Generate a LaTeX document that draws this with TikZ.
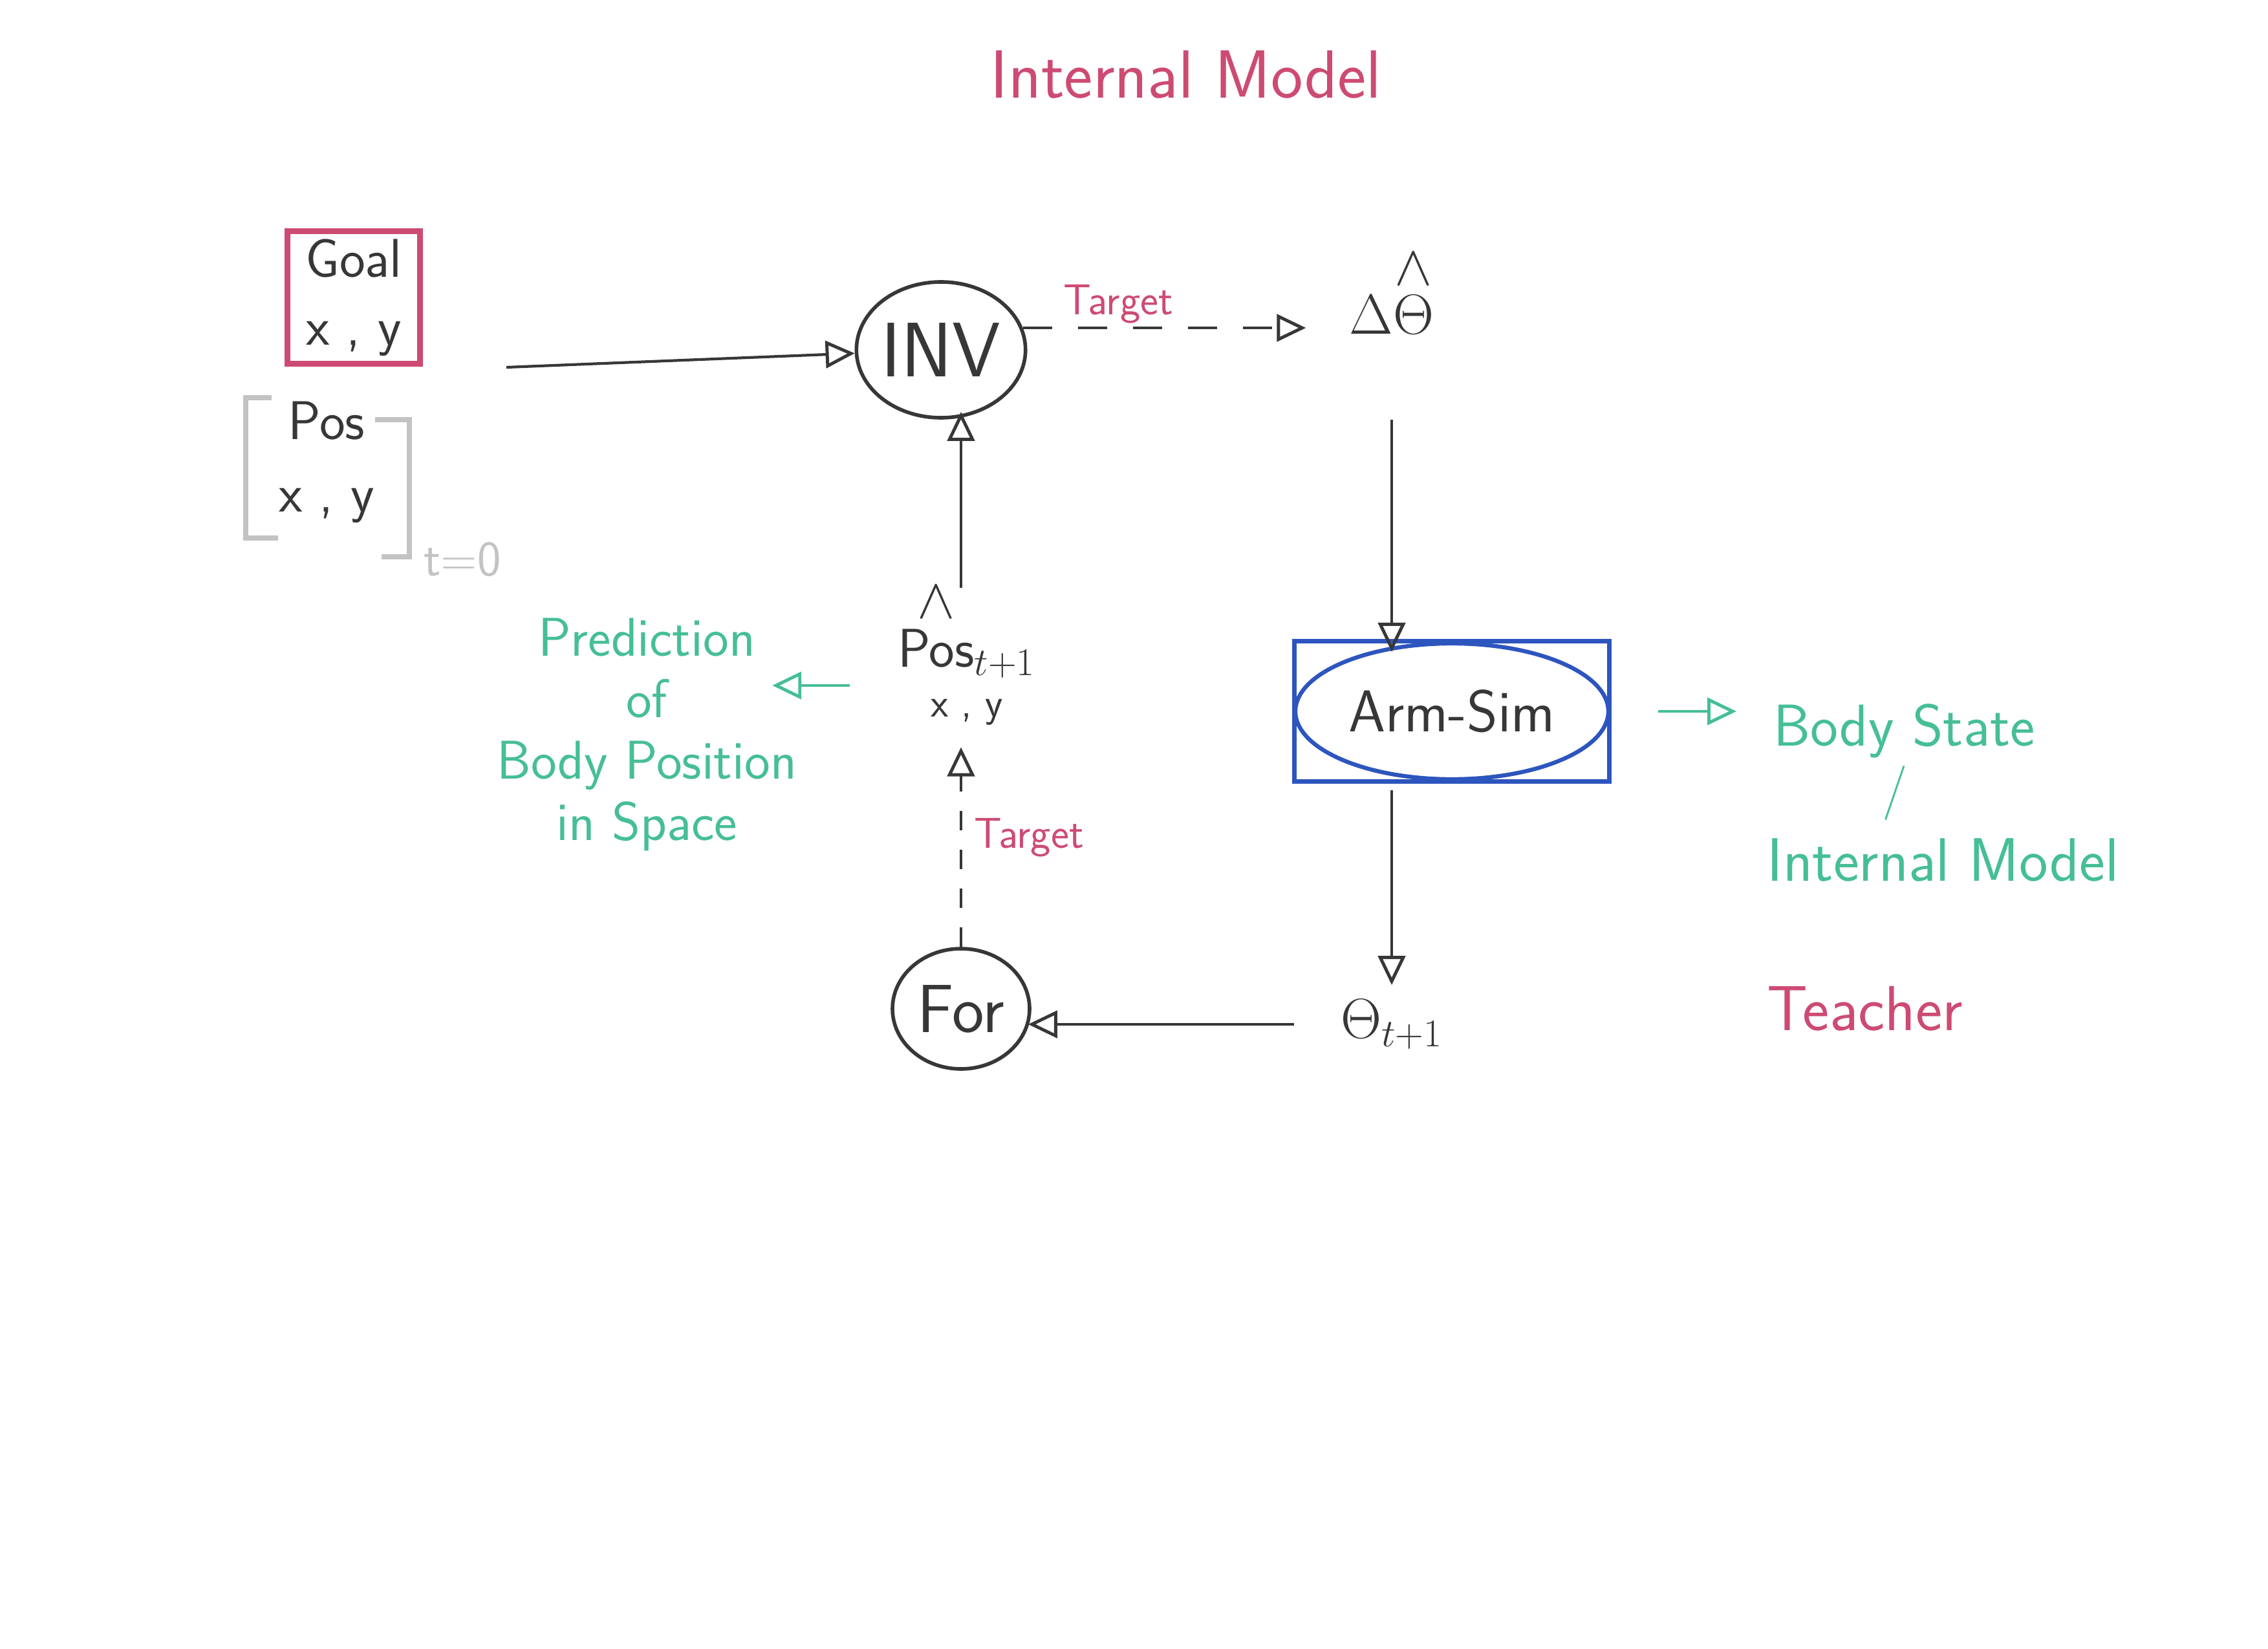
\documentclass[tikz,border=0pt]{standalone}
\usepackage{amsmath}
\usepackage{amssymb}
\usepackage{xcolor}
\usetikzlibrary{arrows.meta}
\usetikzlibrary{shapes.geometric}
\usetikzlibrary{calc, positioning}
\definecolor{penred}{RGB}{205,75,115}
\definecolor{pengreen}{RGB}{70,190,150}
\definecolor{penblue}{RGB}{45,85,190}
\definecolor{pengray}{RGB}{195,195,195}
\definecolor{penblack}{RGB}{55,55,55}
\tikzstyle{arrow} = [line width=1.2pt,-{Triangle[open,length=0.45cm,width=0.42cm,line width=1.4pt]}]
\tikzstyle{dasharrow} = [arrow, dash pattern=on 0.45cm off 0.4cm]

\begin{document}
\begin{tikzpicture}[penblack, font=\sffamily\fontsize{24}{30}\selectfont,
		model/.style = {ellipse, draw, line width=1.6pt, inner sep=0pt},
		note/.style = {pengreen, font=\sffamily\fontsize{24}{27}\selectfont},
		tag/.style = {penred, font=\sffamily\fontsize{19}{22}\selectfont}]

		\useasboundingbox (0,0) rectangle (35.07,-25.5);

		% Title
		\node[penred, font=\sffamily\fontsize{30}{36}\selectfont] (title) at (18.34,-1.15) {Internal Model};

		% Goal
		\node[draw=penred, line width=2.5pt, minimum width=2.05cm, minimum height=1.95cm, align=center] (goal) at (5.47,-4.6) {Goal\\x , y};

		% Start position
		\node[align=center] (pos0) at (5.05,-7.15) {Pos\\[2pt]x , y};
		\draw[pengray, line width=2pt] (4.2,-6.15) -- (3.8,-6.15) -- (3.8,-8.32) -- (4.3,-8.32);
		\draw[pengray, line width=2pt] (5.8,-6.49) -- (6.33,-6.49) -- (6.33,-8.61) -- (5.9,-8.61);
		\node[pengray, font=\sffamily\fontsize{22}{24}\selectfont] (tzero) at (7.15,-8.65) {t=0};
		\coordinate (start) at (7.83,-5.68);

		% Inverse and forward models
		\node[model, minimum width=2.45cm, minimum height=2.1cm, font=\sffamily\fontsize{34}{36}\selectfont] (inv) at (14.55,-5.41) {INV};
		\node[model, minimum width=2.12cm, minimum height=1.86cm, font=\sffamily\fontsize{30}{32}\selectfont] (for) at (14.86,-15.6) {For};

		% Estimated joint change
		\node (dtheta) at (21.52,-4.5) {$\Delta\overset{\displaystyle\wedge}{\Theta}$};

		% Arm simulator
		\node[draw=penblue, line width=2pt, minimum width=4.87cm, minimum height=2.17cm, font=\sffamily\fontsize{26}{28}\selectfont] (armsim) at (22.45,-11.0) {Arm-Sim};
		\draw[penblue, line width=1.8pt] (armsim.center) ellipse (2.42cm and 1.05cm);

		\node (theta) at (21.52,-15.84) {$\Theta_{t+1}$};

		% Predicted position
		\node[align=center, inner sep=1pt] (pos1) at (14.95,-10.1) {$\overset{\displaystyle\wedge}{\text{Pos}}_{t+1}$\\[-8pt]{\fontsize{18}{20}\selectfont x , y}};

		% Side notes
		\node[note, align=center] (pred) at (10.0,-11.36) {Prediction\\of\\Body Position\\in Space};
		\node[note, anchor=west, font=\sffamily\fontsize{26}{28}\selectfont] (body) at (27.3,-11.3) {Body State};
		\node[note] (slash) at (29.3,-12.26) {/};
		\node[note, anchor=west, font=\sffamily\fontsize{27}{30}\selectfont] (intmodel) at (27.2,-13.3) {Internal Model};
		\node[penred, anchor=west, font=\sffamily\fontsize{28}{30}\selectfont] (teacher) at (27.2,-15.6) {Teacher};

		% Connections
		\draw[arrow] (start) -- (inv);
		\draw[dasharrow, shorten >=0.55cm] (inv.15) -- node[tag, above=-2pt, pos=0.3] {Target} (inv.15 -| dtheta.west);
		\draw[arrow, line width=0.9pt, shorten <=1.2cm, shorten >=-0.2cm] (dtheta) -- (armsim.north -| dtheta);
		\draw[arrow, line width=0.9pt, shorten <=0.1cm, shorten >=0.1cm] (armsim.south -| dtheta) -- (theta.north -| dtheta);
		\draw[arrow, shorten <=0.6cm, shorten >=-0.05cm] (theta.west) -- (theta.west -| for.east);
		\draw[dasharrow, dash pattern=on 0.3cm off 0.3cm, line width=1pt, shorten >=0.3cm] (for.north) -- node[tag, right=2pt] {Target} (for.north |- pos1.south);
		\draw[arrow, shorten <=-0.15cm, shorten >=-0.12cm] (pos1.north -| for.north) -- (inv.south -| for.north);
		\draw[arrow, pengreen, shorten <=0.7cm, shorten >=-0.5cm] ($(pos1.west)+(0,-0.5)$) -- ($(pos1.west -| pred.east)+(0,-0.5)$);
		\draw[arrow, pengreen, shorten <=0.72cm, shorten >=0.45cm] (armsim.east) -- (armsim.east -| body.west);
\end{tikzpicture}
\end{document}
